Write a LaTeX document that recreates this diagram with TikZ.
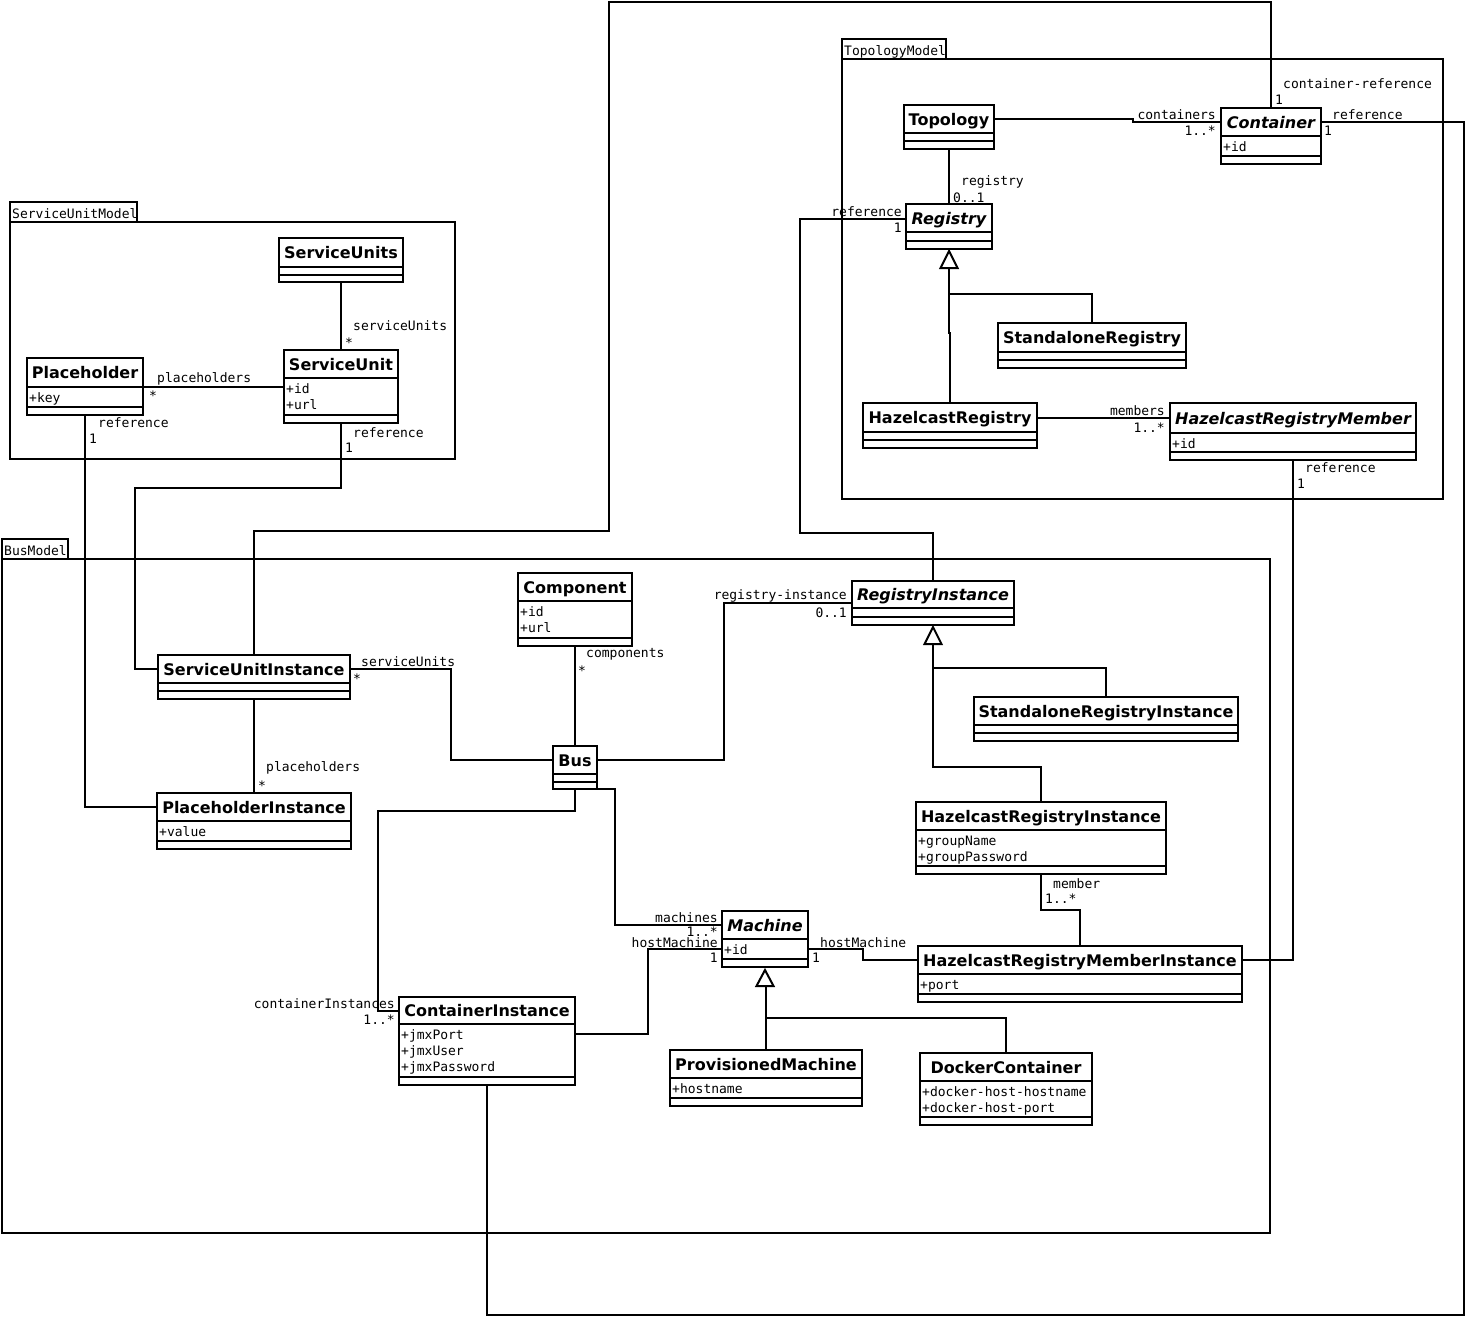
\documentclass[tikz,border=0pt]{standalone}
\usepackage{fontspec}
\newfontfamily\clsfont{DejaVu Sans}
\newfontfamily\monofont{DejaVu Sans Mono}
\tikzset{
 clsbox/.style={draw, line width=2.2pt, fill=white, inner sep=0pt, outer sep=0pt},
 cline/.style={line width=2.2pt},
 clsname/.style={font=\clsfont\fontsize{16}{19}\selectfont\bfseries, inner sep=0pt},
 attr/.style={font=\monofont\fontsize{13}{16}\selectfont, inner sep=0pt},
 lbl/.style={font=\monofont\fontsize{13}{16}\selectfont, inner sep=0pt},
 conn/.style={line width=2pt},
 pkg/.style={line width=2.1pt},
 gen/.style={line width=2pt, fill=white},
}
\newcommand\cls[9]{%
 \node[clsbox, minimum width={(#4-#2)*1pt}, minimum height={(#5-#3)*1pt}, anchor=north west] (#1) at (#2,#3) {};
 \draw[cline] (#2,#6) -- (#4,#6);
 \draw[cline] (#2,#7) -- (#4,#7);
 \node[clsname, anchor=base] (#1-name) at ({(#2+#4)/2},{(#3+#6)/2+6}) {#8};
 \if\relax\detokenize{#9}\relax\else
 \foreach \a [count=\i] in {#9} {\node[attr, anchor=base west] (#1-a\i) at ({#2+2},{#6+15+16*(\i-1)}) {\a};}
 \fi
}
\begin{document}
\begin{tikzpicture}[x=1pt,y=-1pt]
\useasboundingbox (0,0) rectangle (1465,1317);
% packages
\draw[pkg] (10,222) rectangle (455,459);
\draw[pkg] (10,202) rectangle (137,222);
\node[lbl, anchor=base west] (pkgSU) at (12,218) {ServiceUnitModel};
\draw[pkg] (842,59) rectangle (1443,499);
\draw[pkg] (842,39) rectangle (946,59);
\node[lbl, anchor=base west] (pkgTM) at (844,55) {TopologyModel};
\draw[pkg] (2,559) rectangle (1270,1233);
\draw[pkg] (2,539) rectangle (68,559);
\node[lbl, anchor=base west] (pkgBM) at (4,555) {BusModel};
% classes
\cls{ServiceUnits}{279}{238}{403}{282}{267}{275}{ServiceUnits}{}
\cls{ServiceUnit}{284}{350}{398}{423}{378}{415}{ServiceUnit}{+id,+url}
\cls{Placeholder}{27}{358}{143}{415}{387}{407}{Placeholder}{+key}
\cls{Topology}{904}{105}{994}{149}{133}{141}{Topology}{}
\cls{Container}{1221}{108}{1321}{164}{136}{156}{\itshape Container}{+id}
\cls{Registry}{906}{204}{992}{249}{232}{241}{\itshape Registry}{}
\cls{StandaloneRegistry}{998}{323}{1186}{368}{352}{360}{StandaloneRegistry}{}
\cls{HazelcastRegistry}{863}{403}{1037}{448}{432}{440}{HazelcastRegistry}{}
\cls{HazelcastRegistryMember}{1170}{403}{1416}{460}{433}{452}{\itshape HazelcastRegistryMember}{+id}
\cls{ServiceUnitInstance}{158}{655}{350}{699}{683}{691}{ServiceUnitInstance}{}
\cls{Component}{518}{573}{632}{646}{601}{638}{Component}{+id,+url}
\cls{Bus}{553}{746}{597}{789}{774}{782}{Bus}{}
\cls{PlaceholderInstance}{157}{793}{351}{849}{821}{841}{PlaceholderInstance}{+value}
\cls{RegistryInstance}{852}{581}{1014}{625}{608}{617}{\itshape RegistryInstance}{}
\cls{StandaloneRegistryInstance}{974}{697}{1238}{741}{725}{733}{StandaloneRegistryInstance}{}
\cls{HazelcastRegistryInstance}{916}{802}{1166}{874}{830}{866}{HazelcastRegistryInstance}{+groupName,+groupPassword}
\cls{Machine}{722}{911}{808}{967}{939}{959}{\itshape Machine}{+id}
\cls{ContainerInstance}{399}{997}{575}{1085}{1024}{1077}{ContainerInstance}{+jmxPort,+jmxUser,+jmxPassword}
\cls{ProvisionedMachine}{670}{1050}{862}{1106}{1078}{1098}{ProvisionedMachine}{+hostname}
\cls{HazelcastRegistryMemberInstance}{918}{946}{1242}{1002}{974}{994}{HazelcastRegistryMemberInstance}{+port}
\cls{DockerContainer}{920}{1053}{1092}{1125}{1081}{1117}{DockerContainer}{+docker-host-hostname,+docker-host-port}
% connectors
\draw[conn] (ServiceUnits.south) -- (ServiceUnit.north);
\draw[conn] (Placeholder.east |- 0,387) -- (ServiceUnit.west |- 0,387);
\draw[conn] (Placeholder.south) |- (PlaceholderInstance.west |- 0,807);
\draw[conn] (ServiceUnit.south) -- (ServiceUnit.south |- 0,488) -- (135,488) -- (135,669) -- (ServiceUnitInstance.west |- 0,669);
\draw[conn] (Topology.east |- 0,119) -- (1133,119) -- (1133,122) -- (Container.west |- 0,122);
\draw[conn] (Container.north) -- (Container.north |- 0,2) -- (609,2) -- (609,531) -- (ServiceUnitInstance.north |- 0,531) -- (ServiceUnitInstance.north);
\draw[conn] (Container.east |- 0,122) -- (1464,122) -- (1464,1315) -- (ContainerInstance.south |- 0,1315) -- (ContainerInstance.south);
\draw[conn] (Topology.south) -- (Registry.north);
\draw[conn] (Registry.west |- 0,219) -- (800,219) -- (800,533) -- (RegistryInstance.north |- 0,533) -- (RegistryInstance.north);
\draw[conn] (StandaloneRegistry.north) -- (StandaloneRegistry.north |- 0,294) -- (949,294);
\draw[conn] (HazelcastRegistry.north) -- (HazelcastRegistry.north |- 0,333) -- (949,333) -- (949,268);
\draw[gen] (949,251) -- (940.5,268) -- (957.5,268) -- cycle;
\draw[conn] (HazelcastRegistry.east |- 0,418) -- (HazelcastRegistryMember.west |- 0,418);
\draw[conn] (HazelcastRegistryMember.south) -- (HazelcastRegistryMember.south |- 0,960) -- (HazelcastRegistryMemberInstance.east |- 0,960);
\draw[conn] (ServiceUnitInstance.east |- 0,669) -- (451,669) -- (451,760) -- (Bus.west |- 0,760);
\draw[conn] (Component.south) -- (Bus.north);
\draw[conn] (ServiceUnitInstance.south) -- (PlaceholderInstance.north);
\draw[conn] (Bus.east |- 0,760) -- (724,760) -- (724,603) -- (RegistryInstance.west |- 0,603);
\draw[conn] (Bus.south) -- (Bus.south |- 0,811) -- (378,811) -- (378,1011) -- (ContainerInstance.west |- 0,1011);
\draw[conn] (Bus.south east) -- (615,789) -- (615,925) -- (Machine.west |- 0,925);
\draw[conn] (ContainerInstance.east |- 0,1034) -- (648,1034) -- (648,949) -- (Machine.west |- 0,949);
\draw[conn] (Machine.east |- 0,949) -- (863,949) -- (863,960) -- (HazelcastRegistryMemberInstance.west |- 0,960);
\draw[conn] (HazelcastRegistryInstance.north) -- (HazelcastRegistryInstance.north |- 0,767) -- (933,767) -- (933,644);
\draw[conn] (StandaloneRegistryInstance.north) -- (StandaloneRegistryInstance.north |- 0,668) -- (933,668);
\draw[gen] (933,627) -- (924.5,644) -- (941.5,644) -- cycle;
\draw[conn] (HazelcastRegistryInstance.south) -- (HazelcastRegistryInstance.south |- 0,910) -- (HazelcastRegistryMemberInstance.north |- 0,910) -- (HazelcastRegistryMemberInstance.north);
\draw[conn] (ProvisionedMachine.north) -- (ProvisionedMachine.north |- 0,986);
\draw[conn] (DockerContainer.north) -- (DockerContainer.north |- 0,1018) -- (766,1018);
\draw[gen] (765,970) -- (756.5,986) -- (773.5,986) -- cycle;
% labels
\node[lbl, anchor=base west] (l1) at (353,330) {serviceUnits};
\node[lbl, anchor=base west] (m1) at (345,347) {*};
\node[lbl, anchor=base west] (l2) at (157,382) {placeholders};
\node[lbl, anchor=base west] (m2) at (149,400) {*};
\node[lbl, anchor=base west] (l3) at (98,427) {reference};
\node[lbl, anchor=base west] (m3) at (89,443) {1};
\node[lbl, anchor=base west] (l4) at (353,437) {reference};
\node[lbl, anchor=base west] (m4) at (345,452) {1};
\node[lbl, anchor=base west] (l5) at (1283,88) {container-reference};
\node[lbl, anchor=base west] (m5) at (1275,104) {1};
\node[lbl, anchor=base east] (l6) at (1216,119) {containers};
\node[lbl, anchor=base east] (m6) at (1216,135) {1..*};
\node[lbl, anchor=base west] (l7) at (1332,119) {reference};
\node[lbl, anchor=base west] (m7) at (1324,135) {1};
\node[lbl, anchor=base west] (l8) at (961,185) {registry};
\node[lbl, anchor=base west] (m8) at (953,202) {0..1};
\node[lbl, anchor=base east] (l9) at (902,216) {reference};
\node[lbl, anchor=base east] (m9) at (902,232) {1};
\node[lbl, anchor=base east] (l10) at (1165,415) {members};
\node[lbl, anchor=base east] (m10) at (1165,432) {1..*};
\node[lbl, anchor=base west] (l11) at (1305,472) {reference};
\node[lbl, anchor=base west] (m11) at (1297,488) {1};
\node[lbl, anchor=base west] (l12) at (361,666) {serviceUnits};
\node[lbl, anchor=base west] (m12) at (353,683) {*};
\node[lbl, anchor=base west] (l13) at (586,657) {components};
\node[lbl, anchor=base west] (m13) at (578,675) {*};
\node[lbl, anchor=base west] (l14) at (266,771) {placeholders};
\node[lbl, anchor=base west] (m14) at (258,790) {*};
\node[lbl, anchor=base east] (l15) at (847,599) {registry-instance};
\node[lbl, anchor=base east] (m15) at (847,617) {0..1};
\node[lbl, anchor=base east] (l16) at (718,922) {machines};
\node[lbl, anchor=base east] (m16) at (718,936) {1..*};
\node[lbl, anchor=base east] (l17) at (718,947) {hostMachine};
\node[lbl, anchor=base east] (m17) at (718,962) {1};
\node[lbl, anchor=base east] (l18) at (395,1008) {containerInstances};
\node[lbl, anchor=base east] (m18) at (395,1024) {1..*};
\node[lbl, anchor=base west] (l19) at (820,947) {hostMachine};
\node[lbl, anchor=base west] (m19) at (812,962) {1};
\node[lbl, anchor=base west] (l20) at (1053,888) {member};
\node[lbl, anchor=base west] (m20) at (1045,903) {1..*};
\end{tikzpicture}
\end{document}
